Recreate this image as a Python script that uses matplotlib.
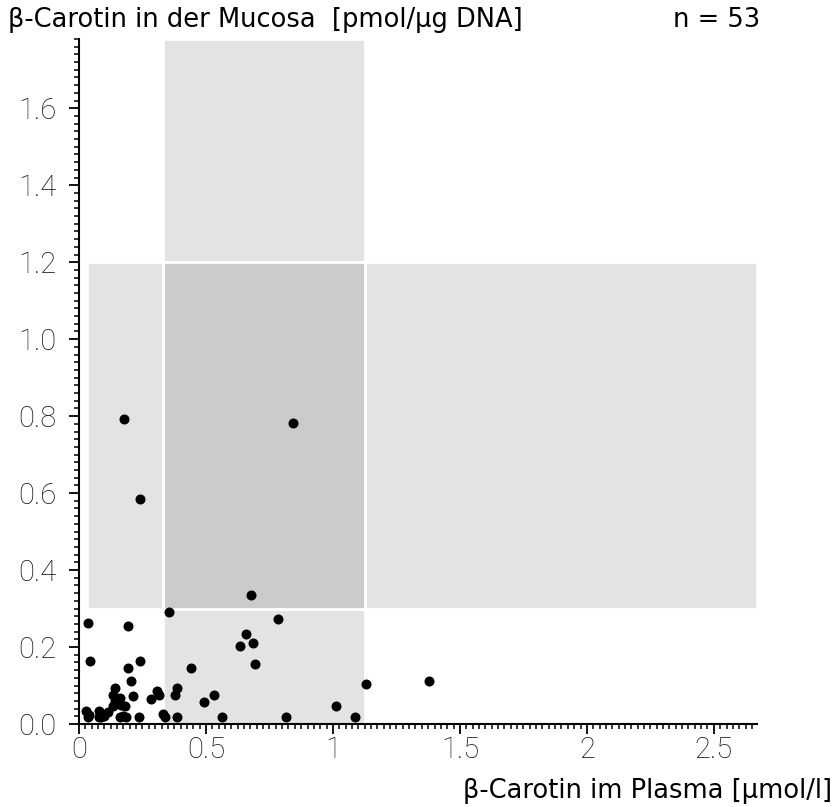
import matplotlib
matplotlib.use("Agg")
import matplotlib.pyplot as plt
from matplotlib.patches import Rectangle
from matplotlib.ticker import MultipleLocator

# ---- data ----
plasma = [0.677, 0.356, 0.034, 0.192, 0.785, 0.657, 0.684, 0.634, 0.693, 0.042,
          0.240, 0.442, 0.192, 0.205, 0.143, 0.385, 0.306, 0.132, 0.163, 0.214,
          0.283, 0.314, 0.378, 0.533, 0.492, 0.132, 0.167, 0.180, 0.113, 0.079,
          0.026, 0.035, 0.079, 0.088, 0.161, 0.185, 0.235, 0.332, 0.340, 0.385,
          0.564, 0.815, 1.129, 1.378, 1.014, 1.085, 0.177, 0.843, 0.240, 0.100,
          0.140, 0.172, 0.040]
mucosa = [0.334, 0.292, 0.263, 0.254, 0.273, 0.235, 0.211, 0.202, 0.156, 0.164,
          0.164, 0.145, 0.145, 0.113, 0.094, 0.094, 0.086, 0.075, 0.067, 0.074,
          0.066, 0.075, 0.075, 0.075, 0.056, 0.048, 0.049, 0.047, 0.032, 0.035,
          0.034, 0.019, 0.019, 0.019, 0.019, 0.019, 0.019, 0.025, 0.018, 0.019,
          0.019, 0.019, 0.103, 0.113, 0.047, 0.018, 0.792, 0.783, 0.584, 0.022,
          0.060, 0.020, 0.024]

# reference ranges
plasma_range = (0.33, 1.125)
mucosa_range = (0.30, 1.20)
x_max = 2.67
y_max = 1.78
x_band_start = 0.03

title_text = "β-Carotin in der Mucosa  [pmol/µg DNA]"
n_text = "n = 53"
xlabel_text = "β-Carotin im Plasma [µmol/l]"
xtick_vals = [0, 0.5, 1, 1.5, 2, 2.5]
xtick_labels = ["0", "0.5", "1", "1.5", "2", "2.5"]
ytick_vals = [0.0, 0.2, 0.4, 0.6, 0.8, 1.0, 1.2, 1.4, 1.6]
ytick_labels = ["0.0", "0.2", "0.4", "0.6", "0.8", "1.0", "1.2", "1.4", "1.6"]

light = "#e3e3e3"
dark = "#cbcbcb"

fig = plt.figure(figsize=(8.36, 8.07), dpi=100)
ax = fig.add_axes([79 / 836, 1 - 724 / 807, 678 / 836, 685 / 807])
ax.set_xlim(0, x_max)
ax.set_ylim(0, y_max)

px0, px1 = plasma_range
my0, my1 = mucosa_range
rects = [
    (px0, 0, px1 - px0, my0, light),
    (px0, my1, px1 - px0, y_max - my1, light),
    (x_band_start, my0, px0 - x_band_start, my1 - my0, light),
    (px1, my0, x_max - px1, my1 - my0, light),
    (px0, my0, px1 - px0, my1 - my0, dark),
]
for x, y, w, h, c in rects:
    ax.add_patch(Rectangle((x, y), w, h, facecolor=c, edgecolor="white",
                           linewidth=2.0, zorder=1))

ax.scatter(plasma, mucosa, s=52, color="black", zorder=3, linewidths=0)

for side in ["top", "right"]:
    ax.spines[side].set_visible(False)
ax.spines["left"].set_linewidth(1.5)
ax.spines["bottom"].set_linewidth(1.5)

ax.set_xticks(xtick_vals)
ax.set_xticklabels(xtick_labels)
ax.set_yticks(ytick_vals)
ax.set_yticklabels(ytick_labels)
ax.xaxis.set_minor_locator(MultipleLocator(0.025))
ax.yaxis.set_minor_locator(MultipleLocator(0.02))
ax.tick_params(axis="both", which="major", length=7, width=1.3, direction="out",
               labelsize=21)
ax.tick_params(axis="x", which="major", pad=2)
ax.tick_params(axis="y", which="major", pad=9)
ax.tick_params(axis="both", which="minor", length=3.8, width=1.1, direction="out")
for lab in ax.get_xticklabels() + ax.get_yticklabels():
    lab.set_fontfamily(["Roboto", "DejaVu Sans"])
    lab.set_fontweight("light")
    lab.set_color("#111111")

fam = ["DejaVu Sans"]
fig.text(8 / 836, 1 - 20 / 807, title_text, fontsize=18.5, va="center", ha="left", family=fam)
fig.text(760 / 836, 1 - 20 / 807, n_text, fontsize=18.5, va="center", ha="right", family=fam)
fig.text(832 / 836, 1 - 791 / 807, xlabel_text, fontsize=18.5, va="center", ha="right", family=fam)

fig.savefig("out.png", dpi=100)
